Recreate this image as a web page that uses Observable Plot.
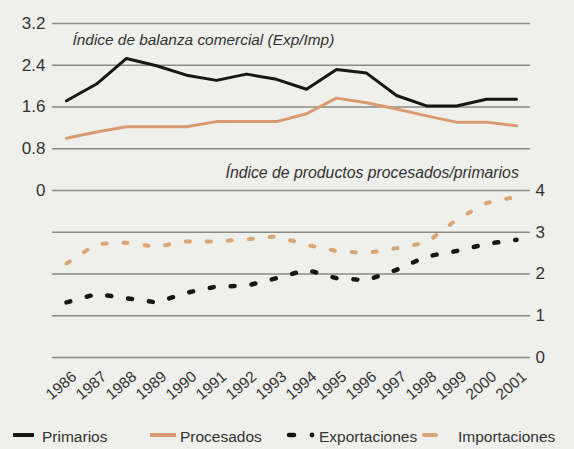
<!DOCTYPE html>
<html>
<head>
<meta charset="utf-8">
<script src="https://cdn.jsdelivr.net/npm/d3@7"></script>
<script src="https://cdn.jsdelivr.net/npm/@observablehq/plot@0.6"></script>
<style>
  html, body { margin: 0; padding: 0; background: #efefeb; }
  body { width: 574px; height: 449px; overflow: hidden; font-family: "Liberation Sans", Arial, sans-serif; }
  #chart svg { display: block; background: #efefeb; }
  #legend { position: relative; height: 29px; font-size: 15.5px; color: #333; }
  #legend .sw { position: absolute; top: 11px; }
  #legend .lab { position: absolute; top: 8px; white-space: nowrap; line-height: 18px; }
</style>
</head>
<body>
<div id="chart"></div>
<div id="legend"></div>
<script>
// ---- data ----
const years = [1986,1987,1988,1989,1990,1991,1992,1993,1994,1995,1996,1997,1998,1999,2000,2001];
// Índice de balanza comercial (Exp/Imp) — left axis
const primarios  = [1.72,2.04,2.53,2.39,2.21,2.11,2.23,2.13,1.94,2.32,2.25,1.82,1.62,1.62,1.75,1.75];
const procesados = [1.00,1.12,1.22,1.22,1.22,1.32,1.32,1.32,1.47,1.77,1.68,1.56,1.43,1.31,1.31,1.24];
// Índice de productos procesados/primarios — right axis
const exportaciones = [1.32,1.52,1.42,1.32,1.55,1.70,1.72,1.90,2.10,1.90,1.85,2.10,2.42,2.55,2.72,2.82];
const importaciones = [2.25,2.72,2.75,2.65,2.78,2.78,2.83,2.90,2.70,2.55,2.50,2.62,2.75,3.30,3.70,3.85];
const leftTicks  = [0, 0.8, 1.6, 2.4, 3.2];
const rightTicks = [0, 1, 2, 3, 4];
const seriesNames = ["Primarios", "Procesados", "Exportaciones", "Importaciones"];
const notes = ["Índice de balanza comercial (Exp/Imp)", "Índice de productos procesados/primarios"];

// top panel: value v on left axis -> unit 4 + v/0.8 ; bottom panel: unit = v
const toTop = v => 4 + v / 0.8;
const rows = (arr, f) => years.map((year, i) => ({year, u: f(arr[i])}));
const dPrim = rows(primarios, toTop);
const dProc = rows(procesados, toTop);
const dExp = rows(exportaciones, v => v);
const dImp = rows(importaciones, v => v);
const grid = d3.range(0, 9);

const black = "#161616";
const tan = "#d99a72";
const tanDash = "#d8a676";
const ink = "#333";

const font = "'Liberation Sans', Arial, sans-serif";

const plot = Plot.plot({
  width: 574,
  height: 420,
  marginLeft: 66,
  marginRight: 58,
  marginTop: 23,
  marginBottom: 63,
  style: {background: "#efefeb", fontFamily: font, color: ink},
  x: {domain: [1986, 2001], axis: null},
  y: {domain: [0, 8], axis: null},
  marks: [
    Plot.ruleY(grid, {x1: 1985.53, x2: 2001.47, stroke: "#8a8a88", strokeWidth: 1.5}),
    Plot.axisY(leftTicks.map(toTop), {anchor: "left", label: null, tickSize: 0, tickPadding: 21, fontSize: 17,
      tickFormat: d => { const v = (d - 4) * 0.8; return v === 0 ? "0" : v.toFixed(1); }}),
    Plot.axisY(rightTicks, {anchor: "right", label: null, tickSize: 0, tickPadding: 19, fontSize: 17, tickFormat: d => String(d)}),
    Plot.text(years, {x: d => d, frameAnchor: "bottom", text: d => String(d), rotate: -40, textAnchor: "end",
      lineAnchor: "middle", dx: 8, dy: 17, fontSize: 15.5, fill: ink}),
    Plot.text([notes[0]], {x: 1986.2, y: 7.6, text: d => d, textAnchor: "start", fontStyle: "italic", fontSize: 15.4, fill: ink}),
    Plot.text([notes[1]], {x: 1991.3, y: 4.43, text: d => d, textAnchor: "start", fontStyle: "italic", fontSize: 15.8, fill: ink}),
    Plot.lineY(dPrim, {x: "year", y: "u", stroke: black, strokeWidth: 3}),
    Plot.lineY(dProc, {x: "year", y: "u", stroke: tan, strokeWidth: 3}),
    Plot.lineY(dImp, {x: "year", y: "u", stroke: tanDash, strokeWidth: 4, strokeDasharray: "4,17", strokeLinecap: "round"}),
    Plot.lineY(dExp, {x: "year", y: "u", stroke: black, strokeWidth: 4.5, strokeDasharray: "4,17", strokeLinecap: "round"})
  ]
});
document.getElementById("chart").appendChild(plot);

// legend
const legend = document.getElementById("legend");
const items = [
  {name: seriesNames[0], swLeft: 12, textLeft: 42, w: 24,
   sw: `<line x1="1" y1="4" x2="22" y2="4" stroke="${black}" stroke-width="4"/>`},
  {name: seriesNames[1], swLeft: 150, textLeft: 180, w: 28,
   sw: `<line x1="0" y1="4" x2="26" y2="4" stroke="${tan}" stroke-width="4"/>`},
  {name: seriesNames[2], swLeft: 286, textLeft: 319, w: 30,
   sw: `<line x1="3" y1="4" x2="8" y2="4" stroke="${black}" stroke-width="4.5" stroke-linecap="round"/><circle cx="26" cy="4" r="2.4" fill="${black}"/>`},
  {name: seriesNames[3], swLeft: 421, textLeft: 458, w: 20,
   sw: `<line x1="3" y1="4" x2="15" y2="4" stroke="${tanDash}" stroke-width="4" stroke-linecap="round"/>`}
];
for (const it of items) {
  const s = document.createElement("div");
  s.className = "sw";
  s.style.left = it.swLeft + "px";
  s.innerHTML = `<svg width="${it.w}" height="8" style="display:block">${it.sw}</svg>`;
  legend.appendChild(s);
  const t = document.createElement("div");
  t.className = "lab";
  t.style.left = it.textLeft + "px";
  t.textContent = it.name;
  legend.appendChild(t);
}
</script>
</body>
</html>
